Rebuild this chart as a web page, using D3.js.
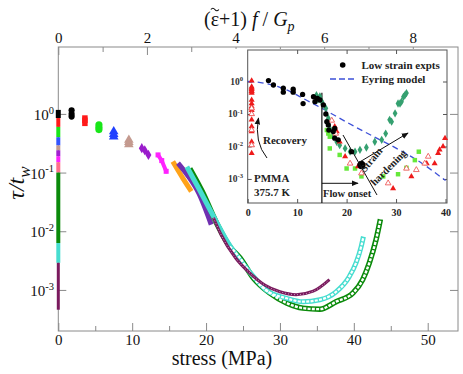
<!DOCTYPE html>
<html>
<head>
<meta charset="utf-8">
<script src="https://cdn.jsdelivr.net/npm/d3@7"></script>
<style>
  body { margin: 0; background: #fff; }
  svg { display: block; font-family: "Liberation Serif", "Times New Roman", serif; }
</style>
</head>
<body>
<div id="chart"></div>
<script>
// ---- main panel data: tau/t_w vs stress (MPa) ----
// zero-stress recovery columns, [top, bottom] tau/t_w
const recBlack = [1.17, 0.85];
const recRed = [0.85, 0.6];
const recLime = [0.6, 0.4];
const recBlue = [0.4, 0.29];
const recTan = [0.29, 0.24];
const recViolet = [0.24, 0.19];
const recMagenta = [0.19, 0.15];
const recOrange = [0.15, 0.1];
const recGreen = [0.1, 0.0063];
const recTurq = [0.0063, 0.0029];
const recMaroon = [0.0029, 0.00046];

// loading branches, [stress, tau/t_w]
const runBlack = [[1.8, 1.15], [1.8, 1.0], [1.8, 0.9]];
const runRed = [[3.6, 0.85], [3.6, 0.78], [3.6, 0.69]];
const runLime = [[5.5, 0.65], [5.5, 0.59], [5.5, 0.54]];
const runBlue = [[7.5, 0.5], [7.5, 0.45], [7.5, 0.41]];
const runTan = [[9.55, 0.36], [9.55, 0.33], [9.55, 0.3]];
const runViolet = [[11.3, 0.26], [11.7, 0.24], [12.2, 0.2]];
const runMagenta = [[13.5, 0.2], [14.0, 0.16], [14.6, 0.105]];
const runOrange = [[15.5, 0.155], [16.2, 0.11], [17.0, 0.075], [18.0, 0.048]];
const runPurple = [[16.2, 0.145], [17.5, 0.09], [19.0, 0.045], [20.7, 0.013]];
const runTurq = [[17.4, 0.126], [19.0, 0.054], [21.0, 0.018], [23.0, 0.0063], [25.0, 0.0028],
  [27.0, 0.0014], [28.1, 0.001], [30.9, 0.00072], [33.1, 0.00063], [35.4, 0.00068],
  [37.6, 0.00093], [39.4, 0.0017], [40.3, 0.0029], [41.0, 0.0055], [41.3, 0.0081]];
const runGreen = [[17.8, 0.117], [19.5, 0.047], [21.4, 0.014], [23.2, 0.0055], [24.6, 0.0035],
  [26.4, 0.0016], [28.6, 0.00089], [30.9, 0.0006], [33.1, 0.00049], [35.4, 0.00047],
  [37.6, 0.00063], [39.9, 0.00089], [41.2, 0.0015], [42.1, 0.0029], [43.0, 0.0071], [43.6, 0.016]];
const runMaroon = [[21.0, 0.017], [22.0, 0.0089], [24.0, 0.0035], [26.0, 0.0019], [28.0, 0.0012],
  [30.0, 0.00093], [32.2, 0.00083], [34.5, 0.00095], [36.7, 0.0015]];

const xTicks = [0, 10, 20, 30, 40, 50];
const topTicks = [0, 2, 4, 6, 8];
const yTicks = [1, 0.1, 0.01, 0.001];

// ---- inset data: PMMA 375.7 K ----
const eyStress = [0, 2, 4, 6, 8, 10, 12, 15, 20, 25, 30, 35, 40];
const eyTau = [1, 0.955, 0.85, 0.71, 0.54, 0.38, 0.26, 0.15, 0.056, 0.022, 0.0089, 0.0032, 0.00089];
const lowStrain = [[4.2, 1.07], [5.2, 0.78], [7.2, 0.62], [7.2, 0.47], [9.2, 0.58], [9.2, 0.47],
  [11.1, 0.4], [11.2, 0.21], [13.3, 0.34], [13.6, 0.24], [14.6, 0.27], [14.1, 0.3], [15.3, 0.19],
  [15.8, 0.1], [16.0, 0.058], [16.3, 0.046], [16.4, 0.032], [17.3, 0.029], [17.6, 0.036],
  [17.6, 0.018], [18.3, 0.016], [21.0, 0.0069]];
const lowStrainBig = [[23.0, 0.0027]];
const recovFilled = [[0.8, 1.05], [0.8, 0.69], [0.8, 0.63], [0.8, 0.58], [0.8, 0.52], [0.8, 0.49],
  [0.8, 0.44], [0.8, 0.27], [0.8, 0.21], [0.8, 0.17], [0.8, 0.13], [0.8, 0.066], [0.8, 0.041],
  [0.8, 0.029], [0.8, 0.014], [0.8, 0.0062]];
const recovOpen = [[0.8, 0.15], [0.8, 0.1], [0.8, 0.032], [0.8, 0.011]];
const strainTeal = [[13.9, 0.38], [14.6, 0.35], [14.0, 0.32], [14.2, 0.28], [15.0, 0.24], [15.2, 0.2],
  [15.8, 0.15], [16.3, 0.074], [16.6, 0.036], [17.3, 0.022], [18.0, 0.014], [18.6, 0.011],
  [19.7, 0.0087], [20.7, 0.0069], [21.7, 0.0069], [22.7, 0.0079], [24.0, 0.0093], [25.7, 0.014],
  [27.1, 0.016], [27.9, 0.025], [28.7, 0.066], [29.1, 0.058], [29.8, 0.105], [30.4, 0.21],
  [30.8, 0.21], [31.1, 0.24], [31.5, 0.34], [31.8, 0.38], [32.1, 0.44]];
const strainLime = [[16.0, 0.032], [16.3, 0.025], [16.6, 0.02], [16.6, 0.0087], [18.6, 0.0055],
  [20.0, 0.0021], [21.7, 0.0021], [23.0, 0.0012], [27.4, 0.0012], [30.4, 0.0014], [32.1, 0.0022],
  [33.8, 0.0038], [34.6, 0.0069]];
const strainRed = [[17.6, 0.041], [18.0, 0.029], [18.6, 0.014], [19.7, 0.0049], [22.3, 0.0024],
  [29.4, 0.00051], [33.1, 0.0012], [36.2, 0.003], [37.8, 0.003], [38.5, 0.0062], [38.8, 0.0079],
  [39.5, 0.01], [39.9, 0.018]];
const strainRedOpen = [[17.0, 0.063], [17.8, 0.025], [20.7, 0.003], [23.0, 0.0015], [28.4, 0.00074],
  [32.1, 0.0021], [34.1, 0.0019], [35.8, 0.003], [36.5, 0.0049]];

// ---- layout ----
const width = 463;
const height = 374;
const svg = d3.select("#chart").append("svg")
  .attr("width", width).attr("height", height)
  .attr("viewBox", [0, 0, width, height]);

const defs = svg.append("defs");
defs.append("marker")
  .attr("id", "arrow").attr("viewBox", "0 0 10 10")
  .attr("refX", 9).attr("refY", 5)
  .attr("markerWidth", 7).attr("markerHeight", 7)
  .attr("orient", "auto-start-reverse")
  .append("path").attr("d", "M0,1 L10,5 L0,9 z").attr("fill", "#111");

const x = d3.scaleLinear([0, 54.1], [58.3, 458]);
const xTop = d3.scaleLinear([0, 9.02], [58.3, 458]);
const y = d3.scaleLog([10 ** -3.70, 10 ** 1.14], [331, 47]);
const axisColor = "#8a8a8a";

// frame
svg.append("rect")
  .attr("x", 58.3).attr("y", 47).attr("width", 458 - 58.3).attr("height", 331 - 47)
  .attr("fill", "none").attr("stroke", axisColor).attr("stroke-width", 1);

function styleAxis(g) {
  g.select(".domain").remove();
  g.attr("font-family", null);
  g.selectAll(".tick line").attr("stroke", axisColor);
  g.selectAll("text").attr("fill", "#111").attr("font-size", 15);
}

// bottom axis
svg.append("g").attr("transform", "translate(0,331)")
  .call(d3.axisBottom(x).tickValues(xTicks).tickSize(-8).tickPadding(3).tickFormat(d3.format("d")))
  .call(styleAxis);
svg.append("g").attr("transform", "translate(0,331)")
  .call(d3.axisBottom(x).tickValues([5, 15, 25, 35, 45]).tickSize(-5).tickFormat(""))
  .call(styleAxis);
// top axis
svg.append("g").attr("transform", "translate(0,47)")
  .call(d3.axisTop(xTop).tickValues(topTicks).tickSize(-8).tickPadding(4).tickFormat(d3.format("d")))
  .call(styleAxis);
svg.append("g").attr("transform", "translate(0,47)")
  .call(d3.axisTop(xTop).tickValues([1, 3, 5, 7]).tickSize(-5).tickFormat(""))
  .call(styleAxis);
// left / right log axes
svg.append("g").attr("transform", "translate(58.3,0)")
  .call(d3.axisLeft(y).tickValues(yTicks).tickSize(-8).tickFormat(""))
  .call(styleAxis);
svg.append("g").attr("transform", "translate(458,0)")
  .call(d3.axisRight(y).tickValues(yTicks).tickSize(-8).tickFormat(""))
  .call(styleAxis);

function powLabel(g, v, px, py, size) {
  const e = Math.round(Math.log10(v));
  const t = g.append("text").attr("x", px).attr("y", py)
    .attr("text-anchor", "end").attr("fill", "#111");
  t.append("tspan").attr("font-size", size).text("10");
  t.append("tspan").attr("font-size", size * 0.7).attr("dy", -size * 0.42)
    .text(e === 0 ? "0" : "-" + Math.abs(e));
  return t;
}
yTicks.forEach(v => powLabel(svg, v, 54, y(v) + 6, 15));

// axis titles
svg.append("text").attr("x", 222).attr("y", 365).attr("text-anchor", "middle")
  .attr("font-size", 20).attr("fill", "#111").text("stress (MPa)");

const ttl = svg.append("text").attr("x", 204).attr("y", 26)
  .attr("font-size", 20).attr("fill", "#111");
ttl.append("tspan").text("(\u03B5+1) ");
ttl.append("tspan").attr("font-style", "italic").text("f");
ttl.append("tspan").text(" / ");
ttl.append("tspan").attr("font-style", "italic").text("G");
ttl.append("tspan").attr("font-style", "italic").attr("font-size", 14).attr("dy", 5).text("p");
// tilde over epsilon, drawn as a small stroke
{
  const n = ttl.node();
  const cx = n.getStartPositionOfChar(1).x + n.getExtentOfChar(1).width / 2;
  svg.append("path")
    .attr("d", `M${cx - 4},${9.5} q2,-2.6 4,0 t4,0`)
    .attr("fill", "none").attr("stroke", "#111").attr("stroke-width", 1.1);
}

const yl = svg.append("text").attr("transform", "translate(24,183) rotate(-90)")
  .attr("text-anchor", "middle").attr("font-size", 24).attr("fill", "#111");
yl.append("tspan").attr("font-style", "italic").text("\u03C4/t");
yl.append("tspan").attr("font-style", "italic").attr("font-size", 17).attr("dy", 6).text("w");

// ---- main series ----
const line = d3.line().x(d => x(d[0])).y(d => y(d[1])).curve(d3.curveMonotoneX);
const gMain = svg.append("g");

function column(rec, color, w) {
  gMain.append("line")
    .attr("x1", x(0)).attr("x2", x(0))
    .attr("y1", y(rec[0])).attr("y2", y(rec[1]))
    .attr("stroke", color).attr("stroke-width", w).attr("stroke-linecap", "butt");
}
column(recBlack, "#000", 5);
column(recRed, "#ff1a1a", 4);
column(recLime, "#19e619", 4);
column(recBlue, "#3355ff", 4);
column(recTan, "#c49a8f", 4);
column(recViolet, "#a020d0", 4);
column(recMagenta, "#ff22ff", 4);
column(recOrange, "#ff6f8a", 4);
column(recGreen, "#0a8a0a", 4);
column(recTurq, "#46ddd0", 4);
column(recMaroon, "#7a1a5e", 3);

function shortRun(data, color, symbol, size) {
  gMain.append("path").datum(data)
    .attr("d", d3.line().x(d => x(d[0])).y(d => y(d[1])))
    .attr("fill", "none").attr("stroke", color).attr("stroke-width", 4)
    .attr("stroke-linecap", "round");
  gMain.selectAll(null).data(data).join("path")
    .attr("transform", d => `translate(${x(d[0])},${y(d[1])})`)
    .attr("d", d3.symbol(symbol, size))
    .attr("fill", color);
}
shortRun(runBlack, "#000", d3.symbolCircle, 30);
shortRun(runRed, "#ff1a1a", d3.symbolSquare, 30);
shortRun(runLime, "#19e619", d3.symbolCircle, 40);
shortRun(runBlue, "#2040ff", d3.symbolTriangle, 40);
shortRun(runTan, "#c49a8f", d3.symbolTriangle, 40);
shortRun(runViolet, "#9a1ccc", d3.symbolDiamond, 30);
shortRun(runMagenta, "#ff22ff", d3.symbolSquare, 25);

function longRun(data, color, w) {
  gMain.append("path").datum(data).attr("d", line)
    .attr("fill", "none").attr("stroke", color).attr("stroke-width", w)
    .attr("stroke-linecap", "butt");
}
function hollow(data, from, w, dash) {
  gMain.append("path").datum(data.filter(d => d[0] >= from)).attr("d", line)
    .attr("fill", "none").attr("stroke", "#fff").attr("stroke-width", w)
    .attr("stroke-dasharray", dash);
}
longRun(runOrange, "#ffa31a", 5);
longRun(runPurple, "#7030b0", 5);
longRun(runGreen, "#0a8a0a", 5.5);
longRun(runTurq, "#46ddd0", 5);
hollow(runGreen, 23.2, 2.4, "3 1.3");
hollow(runTurq, 25, 2.2, "3 1.3");
longRun(runMaroon, "#7a1a5e", 3);
gMain.append("path").datum(runMaroon).attr("d", line)
  .attr("fill", "none").attr("stroke", "#c9a3c0").attr("stroke-width", 1)
  .attr("stroke-dasharray", "1 2");

// ---- inset ----
const ix = d3.scaleLinear([0, 40.3], [247.7, 447]);
const iy = d3.scaleLog([10 ** -3.74, 10 ** 0.97], [203, 50]);
const gIn = svg.append("g");
gIn.append("rect").attr("x", 222).attr("y", 49).attr("width", 226).attr("height", 169)
  .attr("fill", "#fff");
gIn.append("rect").attr("x", 247.7).attr("y", 50).attr("width", 447 - 247.7).attr("height", 153)
  .attr("fill", "none").attr("stroke", "#555").attr("stroke-width", 1);

function styleInset(g) {
  g.select(".domain").remove();
  g.attr("font-family", null);
  g.selectAll(".tick line").attr("stroke", "#555");
  g.selectAll("text").attr("fill", "#222").attr("font-size", 10).attr("font-weight", "bold");
}
gIn.append("g").attr("transform", "translate(0,203)")
  .call(d3.axisBottom(ix).tickValues([0, 10, 20, 30, 40]).tickSize(-4).tickPadding(6)
    .tickFormat(d3.format("d")))
  .call(styleInset);
gIn.append("g").attr("transform", "translate(0,50)")
  .call(d3.axisTop(ix).tickValues([10, 20, 30]).tickSize(-4).tickFormat(""))
  .call(styleInset);
gIn.append("g").attr("transform", "translate(247.7,0)")
  .call(d3.axisLeft(iy).tickValues(yTicks).tickSize(-4).tickFormat(""))
  .call(styleInset);
gIn.append("g").attr("transform", "translate(447,0)")
  .call(d3.axisRight(iy).tickValues(yTicks).tickSize(-4).tickFormat(""))
  .call(styleInset);
yTicks.forEach(v => powLabel(gIn, v, 243, iy(v) + 3.5, 9.5)
  .attr("font-weight", "bold").attr("fill", "#333"));

// eyring model
gIn.append("path").datum(eyStress.map((s, i) => [s, eyTau[i]]))
  .attr("d", d3.line().x(d => ix(d[0])).y(d => iy(d[1])).curve(d3.curveMonotoneX))
  .attr("fill", "none").attr("stroke", "#3d50d8").attr("stroke-width", 1.3)
  .attr("stroke-dasharray", "6 4");

// flow onset line
gIn.append("line").attr("x1", ix(15)).attr("x2", ix(15)).attr("y1", iy(0.45)).attr("y2", 203)
  .attr("stroke", "#111").attr("stroke-width", 1.2);

function pts(data, symbol, size, fill, stroke) {
  gIn.selectAll(null).data(data).join("path")
    .attr("transform", d => `translate(${ix(d[0])},${iy(d[1])})`)
    .attr("d", d3.symbol(symbol, size))
    .attr("fill", fill).attr("stroke", stroke || "none").attr("stroke-width", 0.9);
}
pts(recovFilled, d3.symbolTriangle, 16, "#ee1a1a");
pts(recovOpen, d3.symbolTriangle, 14, "#fff", "#ee4a4a");
pts(strainTeal, d3.symbolDiamond, 20, "#35a070");
pts(strainLime, d3.symbolSquare, 20, "#66e83a");
pts(strainRed, d3.symbolTriangle, 16, "#ee1a1a");
pts(strainRedOpen, d3.symbolTriangle, 14, "#fff", "#ee5a5a");
pts(lowStrain, d3.symbolCircle, 22, "#000");
pts(lowStrainBig, d3.symbolCircle, 55, "#000");

// legend
gIn.append("circle").attr("cx", 342.7).attr("cy", 65).attr("r", 2.8).attr("fill", "#000");
gIn.append("text").attr("x", 361.5).attr("y", 69).attr("font-size", 11).attr("font-weight", "bold")
  .attr("fill", "#222").text("Low strain expts");
gIn.append("line").attr("x1", 330).attr("x2", 354).attr("y1", 79).attr("y2", 79)
  .attr("stroke", "#3d50d8").attr("stroke-width", 1.3).attr("stroke-dasharray", "6 3");
gIn.append("text").attr("x", 361.5).attr("y", 83).attr("font-size", 11).attr("font-weight", "bold")
  .attr("fill", "#222").text("Eyring model");

// annotations
const ann = (tx, ty, s, size) => gIn.append("text").attr("x", tx).attr("y", ty)
  .attr("font-size", size).attr("font-weight", "bold").attr("fill", "#222").text(s);
ann(263, 144, "Recovery", 11);
ann(254, 182, "PMMA", 11);
ann(254, 195.5, "375.7 K", 11);
ann(323, 197, "Flow onset", 10.5);

gIn.append("path").attr("d", "M267,158 Q254,142 258.5,118")
  .attr("fill", "none").attr("stroke", "#111").attr("stroke-width", 1)
  .attr("marker-end", "url(#arrow)");
gIn.append("line").attr("x1", ix(15)).attr("x2", 358).attr("y1", 183.3).attr("y2", 183.3)
  .attr("stroke", "#111").attr("stroke-width", 1).attr("marker-end", "url(#arrow)");
gIn.append("line").attr("x1", 343).attr("y1", 135).attr("x2", 377).attr("y2", 195)
  .attr("stroke", "#111").attr("stroke-width", 1);
gIn.append("line").attr("x1", 358).attr("y1", 163).attr("x2", 408).attr("y2", 133)
  .attr("stroke", "#111").attr("stroke-width", 1).attr("marker-end", "url(#arrow)");
gIn.append("text").attr("transform", "translate(374,162) rotate(-50)").attr("text-anchor", "middle")
  .attr("font-size", 10.5).attr("font-weight", "bold").attr("fill", "#222").text("Strain");
gIn.append("text").attr("transform", "translate(391,170) rotate(-45)").attr("text-anchor", "middle")
  .attr("font-size", 10.5).attr("font-weight", "bold").attr("fill", "#222").text("hardening");
</script>
</body>
</html>
